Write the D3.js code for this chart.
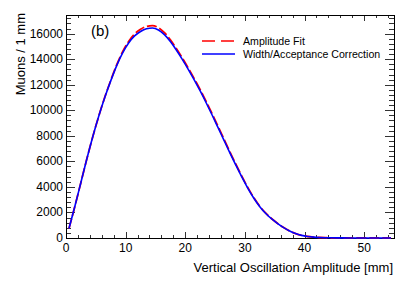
<!DOCTYPE html>
<html>
<head>
<meta charset="utf-8">
<script src="https://cdn.jsdelivr.net/npm/d3@7"></script>
<style>
  body { margin: 0; background: #fff; }
  svg { display: block; font-family: "Liberation Sans", Arial, sans-serif; }
</style>
</head>
<body>
<div id="chart"></div>
<script>
// bin centres (mm) and values
const amplitude = d3.range(0.5, 55, 1);
const widthAcceptance = [750, 2500, 4350, 6200, 7950, 9550, 11000, 12300, 13500, 14500,
  15270, 15820, 16170, 16380, 16440, 16290, 15920, 15380, 14720, 13990,
  13210, 12380, 11510, 10590, 9630, 8640, 7640, 6650, 5690, 4760,
  3890, 3110, 2450, 1920, 1490, 1130, 810, 550, 345, 205,
  118, 66, 38, 22, 14, 9, 6, 4, 3, 2, 2, 1, 1, 1, 1];
const amplitudeFit = [750, 2500, 4350, 6200, 7950, 9550, 11020, 12340, 13560, 14590,
  15390, 15970, 16340, 16565, 16630, 16470, 16080, 15520, 14840, 14100,
  13310, 12480, 11610, 10690, 9730, 8735, 7730, 6730, 5760, 4820,
  3940, 3150, 2480, 1940, 1505, 1140, 815, 550, 345, 205,
  118, 66, 38, 22, 14, 9, 6, 4, 3, 2, 2, 1, 1, 1, 1];
const xTicks = [0, 10, 20, 30, 40, 50];
const yTicks = [0, 2000, 4000, 6000, 8000, 10000, 12000, 14000, 16000];
const legendItems = [
  { label: 'Amplitude Fit', color: '#ff0000', dash: '13,6' },
  { label: 'Width/Acceptance Correction', color: '#0000ff', dash: null },
];

const W = 415, H = 284;
const m = { left: 66, right: 21, top: 15, bottom: 46 };
const x0 = m.left, x1 = W - m.right, y0 = H - m.bottom, y1 = m.top;

const svg = d3.select('#chart').append('svg').attr('width', W).attr('height', H);

const x = d3.scaleLinear().domain([0, 55]).range([x0, x1]);
const y = d3.scaleLinear().domain([0, 17460]).range([y0, y1]);

// ---- ticks (ROOT style: inside, on all four sides) ----
const ax = svg.append('g').attr('stroke', '#333').attr('stroke-width', 1);
d3.range(0, 55.01, 2).forEach((v) => {
  const len = v % 10 === 0 ? 6 : 3;
  const px = Math.round(x(v)) + 0.5;
  ax.append('line').attr('x1', px).attr('x2', px).attr('y1', y0).attr('y2', y0 - len);
  ax.append('line').attr('x1', px).attr('x2', px).attr('y1', y1).attr('y2', y1 + len);
});
d3.range(0, 17460, 400).forEach((v) => {
  const len = v % 2000 === 0 ? 9 : 5;
  const py = Math.round(y(v)) + 0.5;
  ax.append('line').attr('x1', x0).attr('x2', x0 + len).attr('y1', py).attr('y2', py);
  ax.append('line').attr('x1', x1).attr('x2', x1 - len).attr('y1', py).attr('y2', py);
});

// frame
svg.append('rect')
  .attr('x', x0 + 0.5).attr('y', y1 + 0.5)
  .attr('width', x1 - x0).attr('height', y0 - y1)
  .attr('fill', 'none').attr('stroke', '#000').attr('stroke-width', 1);

// tick labels
svg.append('g').selectAll('text').data(xTicks).join('text')
  .attr('x', (d) => x(d)).attr('y', y0 + 14)
  .attr('text-anchor', 'middle').attr('font-size', 12).attr('fill', '#000')
  .text((d) => d);
svg.append('g').selectAll('text').data(yTicks).join('text')
  .attr('x', x0 - 3).attr('y', (d) => y(d) + 4)
  .attr('text-anchor', 'end').attr('font-size', 12).attr('fill', '#000')
  .text((d) => d);

// axis titles
svg.append('text')
  .attr('x', x1 - 1).attr('y', 272)
  .attr('text-anchor', 'end').attr('font-size', 13).attr('fill', '#000')
  .text('Vertical Oscillation Amplitude [mm]');
svg.append('text')
  .attr('transform', 'translate(25,13) rotate(-90)')
  .attr('text-anchor', 'end').attr('font-size', 13).attr('fill', '#000')
  .text('Muons / 1 mm');

// ---- curves ----
const line = d3.line().x((d, i) => x(amplitude[i])).y((d) => y(d)).curve(d3.curveMonotoneX);
svg.append('path').datum(amplitudeFit)
  .attr('d', line).attr('fill', 'none')
  .attr('stroke', '#ff0000').attr('stroke-width', 1.8).attr('stroke-dasharray', '10,3');
svg.append('path').datum(widthAcceptance)
  .attr('d', line).attr('fill', 'none')
  .attr('stroke', '#0000ff').attr('stroke-width', 1.6);

// panel tag
svg.append('text').attr('x', 91).attr('y', 36)
  .attr('font-size', 15).attr('fill', '#000').text('(b)');

// ---- legend ----
const lg = svg.append('g');
legendItems.forEach((d, i) => {
  const ly = 41 + i * 13;
  lg.append('line').attr('x1', 202).attr('x2', 235).attr('y1', ly).attr('y2', ly)
    .attr('stroke', d.color).attr('stroke-width', 1.6).attr('stroke-dasharray', d.dash);
  lg.append('text').attr('x', 243).attr('y', ly + 4)
    .attr('font-size', 10.6).attr('fill', '#000').text(d.label);
});
</script>
</body>
</html>
